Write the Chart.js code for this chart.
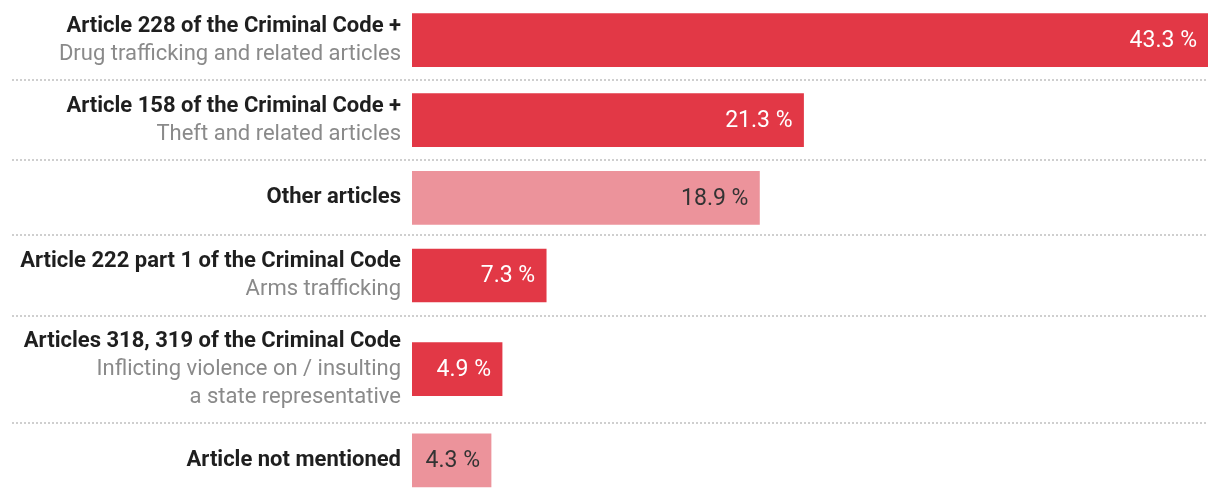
<!DOCTYPE html>
<html lang="en">
<head>
  <meta charset="UTF-8">
  <title>Articles</title>
  <script src="https://cdn.jsdelivr.net/npm/chart.js"></script>
  <style>
    html, body { margin: 0; padding: 0; background: #fff; }
    #wrap { width: 1220px; height: 498px; }
  </style>
</head>
<body>
  <div id="wrap">
    <canvas id="chart"></canvas>
  </div>
  <script>

const titles = [
  'Article 228 of the Criminal Code +',
  'Article 158 of the Criminal Code +',
  'Other articles',
  'Article 222 part 1 of the Criminal Code',
  'Articles 318, 319 of the Criminal Code',
  'Article not mentioned'
];
const subtitles = [
  ['Drug trafficking and related articles'],
  ['Theft and related articles'],
  [],
  ['Arms trafficking'],
  ['Inflicting violence on / insulting', 'a state representative'],
  []
];
const shares = [43.3, 21.3, 18.9, 7.3, 4.9, 4.3];
const kinds = ['article', 'article', 'other', 'article', 'article', 'other'];

const RED = '#E23846';
const PINK = '#EC939B';
const LINE_H = 28;

// row heights follow the number of label lines
const rowHeights = titles.map((t, i) => Math.max(78, (1 + subtitles[i].length) * LINE_H + 27));
const bounds = [0];
rowHeights.forEach(h => bounds.push(bounds[bounds.length - 1] + h));
const centers = rowHeights.map((h, i) => bounds[i] + h / 2);
const total = bounds[bounds.length - 1];

const rowPlugin = {
  id: 'rows',
  beforeDatasetsDraw(chart) {
    const ctx = chart.ctx;
    const y = chart.scales.y;
    ctx.save();
    ctx.strokeStyle = '#cfcfcf';
    ctx.lineWidth = 2;
    ctx.setLineDash([2, 2]);
    for (let i = 1; i < bounds.length - 1; i++) {
      const py = Math.round(y.getPixelForValue(bounds[i]));
      ctx.beginPath();
      ctx.moveTo(12, py);
      ctx.lineTo(chart.chartArea.right, py);
      ctx.stroke();
    }
    ctx.restore();
  },
  afterDatasetsDraw(chart) {
    const ctx = chart.ctx;
    const y = chart.scales.y;
    const meta = chart.getDatasetMeta(0);
    ctx.save();
    ctx.textAlign = 'right';
    ctx.textBaseline = 'middle';
    titles.forEach((t, i) => {
      const lines = [t].concat(subtitles[i]);
      const cy = y.getPixelForValue(centers[i]);
      const top = cy - (lines.length - 1) * LINE_H / 2;
      lines.forEach((ln, j) => {
        ctx.font = (j === 0 ? '700 ' : '400 ') + '22px Roboto';
        ctx.fillStyle = j === 0 ? '#1f1f1f' : '#8a8a8a';
        ctx.fillText(ln, 401, top + j * LINE_H);
      });
      // value label inside bar
      const bar = meta.data[i];
      ctx.font = '400 23px Roboto';
      ctx.fillStyle = kinds[i] === 'other' ? '#333333' : '#ffffff';
      ctx.fillText(shares[i].toFixed(1) + ' %', bar.x - 11, cy + 1);
    });
    ctx.restore();
  }
};

new Chart(document.getElementById('chart'), {
  type: 'bar',
  data: {
    datasets: [{
      data: shares.map((v, i) => ({ x: v, y: centers[i] })),
      backgroundColor: kinds.map(k => k === 'other' ? PINK : RED),
      barThickness: 53,
      borderWidth: 0,
      grouped: false
    }]
  },
  options: {
    indexAxis: 'y',
    responsive: true,
    maintainAspectRatio: false,
    animation: false,
    layout: { padding: { left: 412, right: 12, top: 0, bottom: 0 } },
    scales: {
      x: { type: 'linear', min: 0, max: Math.max(...shares), display: false },
      y: { type: 'linear', min: 0, max: total, reverse: true, offset: false, display: false }
    },
    plugins: {
      legend: { display: false },
      tooltip: { enabled: false }
    }
  },
  plugins: [rowPlugin]
});

  </script>
</body>
</html>
